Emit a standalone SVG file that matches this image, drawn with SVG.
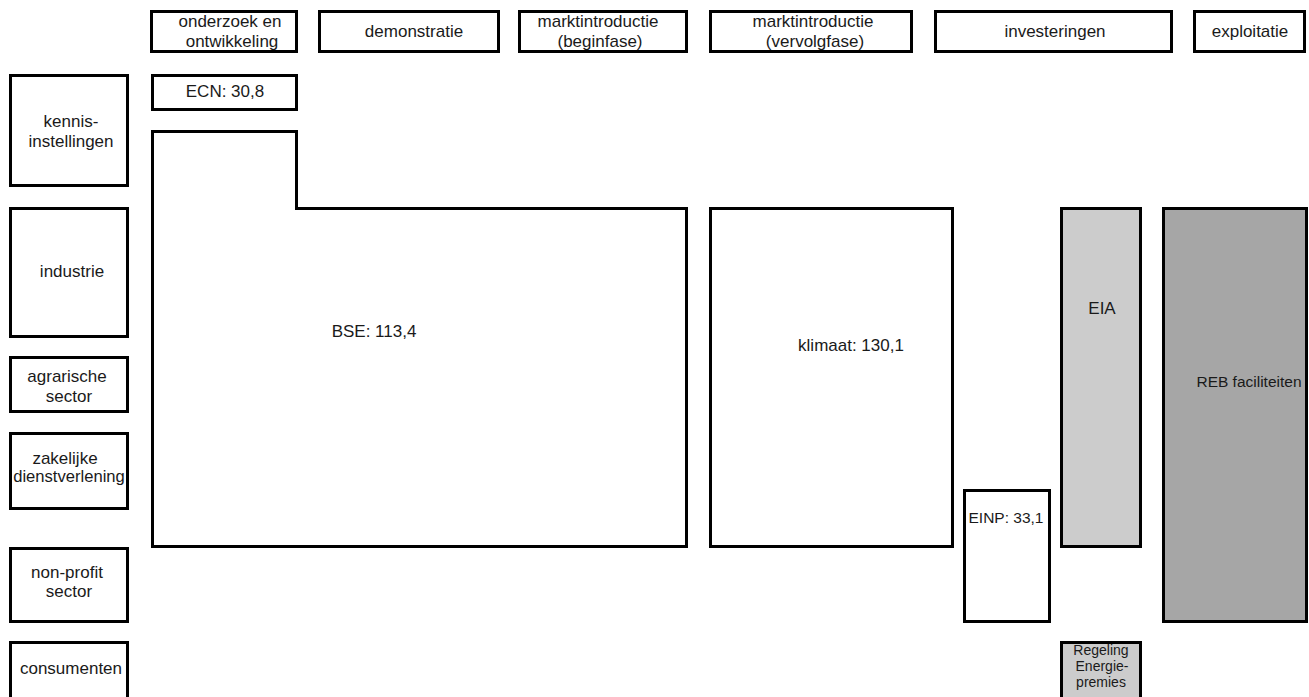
<svg xmlns="http://www.w3.org/2000/svg" width="1309" height="697" viewBox="0 0 1309 697">
<style>
.b{fill:#fff;stroke:#000;stroke-width:3}
.l{fill:#ccc;stroke:#000;stroke-width:3}
.d{fill:#a6a6a6;stroke:#000;stroke-width:3}
text{font-family:"Liberation Sans",Arial,sans-serif;font-size:17px;fill:#1a1a1a;text-anchor:middle}
.s{font-size:14px}
.m{font-size:15.5px}
</style>
<rect width="1309" height="697" fill="#fff"/>
<g id="h1"><rect class="b" x="151.5" y="11.5" width="145" height="40"/><text x="230" y="27">onderzoek en</text><text x="232" y="47">ontwikkeling</text></g>
<g id="h2"><rect class="b" x="319.5" y="11.5" width="179" height="40"/><text x="414" y="37">demonstratie</text></g>
<g id="h3"><rect class="b" x="519.5" y="11.5" width="167" height="40"/><text x="598" y="27">marktintroductie</text><text x="600" y="47">(beginfase)</text></g>
<g id="h4"><rect class="b" x="710.5" y="11.5" width="201" height="40"/><text x="813" y="27">marktintroductie</text><text x="815" y="47">(vervolgfase)</text></g>
<g id="h5"><rect class="b" x="935.5" y="11.5" width="236" height="40"/><text x="1055" y="37">investeringen</text></g>
<g id="h6"><rect class="b" x="1194.5" y="11.5" width="110" height="40"/><text x="1250" y="37">exploitatie</text></g>
<g id="r1"><rect class="b" x="10.5" y="75.5" width="117" height="110"/><text x="71" y="127">kennis-</text><text x="71" y="147">instellingen</text></g>
<g id="r2"><rect class="b" x="10.5" y="208.5" width="117" height="128"/><text x="72" y="277">industrie</text></g>
<g id="r3"><rect class="b" x="10.5" y="357.5" width="117" height="54"/><text x="67" y="382">agrarische</text><text x="69" y="402">sector</text></g>
<g id="r4"><rect class="b" x="10.5" y="433.5" width="117" height="75"/><text x="65" y="464">zakelijke</text><text x="69" y="482" style="font-size:16.6px">dienstverlening</text></g>
<g id="r5"><rect class="b" x="10.5" y="548.5" width="117" height="73"/><text x="67" y="578">non-profit</text><text x="69" y="597">sector</text></g>
<g id="r6"><rect class="b" x="10.5" y="642.5" width="117" height="60"/><text x="71" y="674">consumenten</text></g>
<g id="ecn"><rect class="b" x="152.5" y="75.5" width="144" height="34"/><text x="225" y="97">ECN: 30,8</text></g>
<g id="bse"><path class="b" d="M152.5 131.5H296.5V208.5H686.5V546.5H152.5Z"/><text x="374" y="337">BSE: 113,4</text></g>
<g id="klimaat"><rect class="b" x="710.5" y="208.5" width="242" height="338"/><text x="851" y="351">klimaat: 130,1</text></g>
<g id="einp"><rect class="b" x="964.5" y="490.5" width="85" height="131"/><text class="m" x="1006" y="523">EINP: 33,1</text></g>
<g id="eia"><rect class="l" x="1061.5" y="208.5" width="79" height="338"/><text x="1102" y="314">EIA</text></g>
<g id="reb"><rect class="d" x="1163.5" y="208.5" width="143" height="413"/><text class="m" x="1249" y="387">REB faciliteiten</text></g>
<g id="rep"><rect class="l" x="1061.5" y="642.5" width="79" height="60"/><text class="s" x="1101" y="655">Regeling</text><text class="s" x="1102" y="671">Energie-</text><text class="s" x="1101" y="687">premies</text></g>
<g id="connectors"/>
</svg>
